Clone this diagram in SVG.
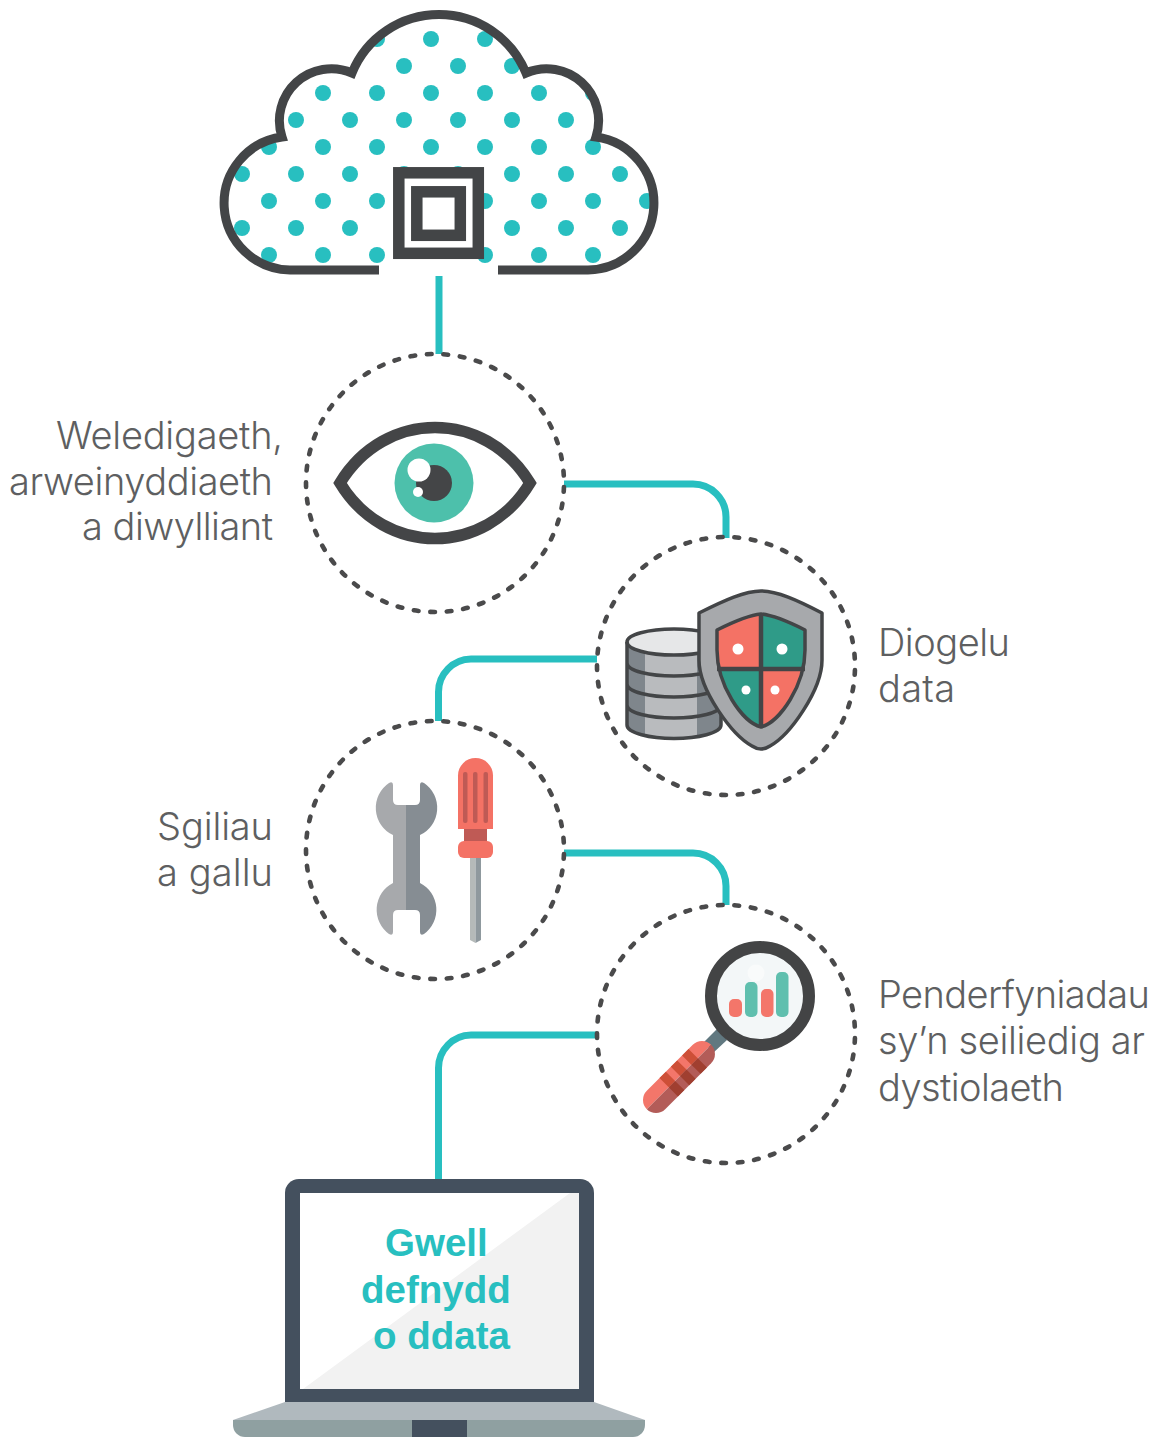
<svg xmlns="http://www.w3.org/2000/svg" width="1157" height="1437" viewBox="0 0 1157 1437">
<style>
.conn{fill:none;stroke:#28bfc0;stroke-width:7}
.ring{fill:none;stroke:#4a4a4b;stroke-width:4.600;stroke-linecap:round;stroke-dasharray:4.700 11.840;stroke-dashoffset:-4.100}
.lbl{font-family:Inter,Roboto,"Liberation Sans",sans-serif;font-weight:300;font-size:38px;fill:#5e5f61}
.big{font-family:"Liberation Sans",Arial,sans-serif;font-weight:700;font-size:38.500px;fill:#28bfc0}
.dots circle{fill:#28bfc0;r:8px}
</style>
<defs>
<clipPath id="cloudClip"><path d="M379,270L290,270A66.8,66.8 0 0 1 282,137A52,52 0 0 1 352,73A94,94 0 0 1 526,73A52,52 0 0 1 596,137A66.8,66.8 0 0 1 588,270L498,270Z"/></clipPath>
</defs>
<rect width="1157" height="1437" fill="#fff"/>
<g id="connectors" class="conn">
<path d="M439,276V354"/>
<path d="M564,484H693A33,33 0 0 1 726,517V538"/>
<path d="M597,659H471A33,33 0 0 0 438.500,692V721"/>
<path d="M564,853H693A33,33 0 0 1 726,886V905"/>
<path d="M597,1035H471A33,33 0 0 0 438.500,1068V1180"/>
</g>
<g id="cloud">
<g class="dots" clip-path="url(#cloudClip)">
<circle cx="377" cy="39"/><circle cx="431" cy="39"/><circle cx="485" cy="39"/>
<circle cx="404" cy="66"/><circle cx="458" cy="66"/><circle cx="512" cy="66"/>
<circle cx="323" cy="93"/><circle cx="377" cy="93"/><circle cx="431" cy="93"/><circle cx="485" cy="93"/><circle cx="539" cy="93"/><circle cx="593" cy="93"/>
<circle cx="296" cy="120"/><circle cx="350" cy="120"/><circle cx="404" cy="120"/><circle cx="458" cy="120"/><circle cx="512" cy="120"/><circle cx="566" cy="120"/>
<circle cx="269" cy="147"/><circle cx="323" cy="147"/><circle cx="377" cy="147"/><circle cx="431" cy="147"/><circle cx="485" cy="147"/><circle cx="539" cy="147"/><circle cx="593" cy="147"/>
<circle cx="242" cy="174"/><circle cx="296" cy="174"/><circle cx="350" cy="174"/><circle cx="404" cy="174"/><circle cx="458" cy="174"/><circle cx="512" cy="174"/><circle cx="566" cy="174"/><circle cx="620" cy="174"/>
<circle cx="269" cy="201"/><circle cx="323" cy="201"/><circle cx="377" cy="201"/><circle cx="485" cy="201"/><circle cx="539" cy="201"/><circle cx="593" cy="201"/><circle cx="647" cy="201"/>
<circle cx="242" cy="228"/><circle cx="296" cy="228"/><circle cx="350" cy="228"/><circle cx="512" cy="228"/><circle cx="566" cy="228"/><circle cx="620" cy="228"/>
<circle cx="269" cy="255"/><circle cx="323" cy="255"/><circle cx="377" cy="255"/><circle cx="485" cy="255"/><circle cx="539" cy="255"/><circle cx="593" cy="255"/>
</g>
<path d="M379,270L290,270A66.8,66.800 0 0 1 282,137A52,52 0 0 1 352,73A94,94 0 0 1 526,73A52,52 0 0 1 596,137A66.8,66.800 0 0 1 588,270L498,270" fill="none" stroke="#434547" stroke-width="9" stroke-miterlimit="6"/>
<rect x="398.800" y="172.800" width="79.500" height="80.500" fill="#fff" stroke="#434547" stroke-width="11.500"/>
<rect x="416.800" y="191.800" width="43.500" height="43.500" fill="#fff" stroke="#434547" stroke-width="11.500"/>
</g>
<g id="node-vision">
<circle class="ring" cx="435" cy="483" r="129"/>
<path d="M340,483C385,409 485,409 530,483C485,557 385,557 340,483Z" fill="#fff" stroke="#444547" stroke-width="11.500" stroke-linejoin="miter"/>
<circle cx="434" cy="483" r="39.500" fill="#4dc0ab"/>
<circle cx="434" cy="483" r="18" fill="#444547"/>
<circle cx="419" cy="470" r="11.500" fill="#fff"/>
<circle cx="418" cy="492" r="5" fill="#fff"/>
<g class="lbl"><text x="56" y="448.500" textLength="227">Weledigaeth,</text><text x="9" y="494.500" textLength="264">arweinyddiaeth</text><text x="82" y="539.500" textLength="191">a diwylliant</text></g>
</g>
<g id="node-data">
<circle class="ring" cx="726" cy="666" r="129"/>
<path d="M627,642V725C627,733 650,738.500 674,738.500C698,738.500 721,733 721,725V642Z" fill="#b9bbbe"/>
<path d="M627,642V725C627,730 635,734 645,736V642Z" fill="#7f868c"/>
<path d="M697,642V736C710,734 721,730 721,725V642Z" fill="#7f868c"/>
<ellipse cx="674" cy="642" rx="47" ry="13" fill="#e6e7e8" stroke="#434547" stroke-width="3.500"/>
<path d="M627,642V725C627,733 650,738.500 674,738.500C698,738.500 721,733 721,725V642M627,663C627,671 650,676 674,676C698,676 721,671 721,663M627,684C627,692 650,697 674,697C698,697 721,692 721,684M627,705C627,713 650,718 674,718C698,718 721,713 721,705" fill="none" stroke="#434547" stroke-width="3.500"/>
<path d="M699,613C725,600 745,591 761,591C777,591 797,600 822,613V660C822,690 790,735 770,746C764,750 758,750 752,746C732,735 699,690 699,660Z" fill="#a7a9ac" stroke="#434547" stroke-width="3.500" stroke-linejoin="round"/>
<path d="M717,630C735,621 750,615 761,614V669H719Z" fill="#f47265"/>
<path d="M805,630C787,621 772,615 761,614V669H803Z" fill="#2f9b88"/>
<path d="M719,669H761V727C745,722 725,695 719,669Z" fill="#2f9b88"/>
<path d="M803,669H761V727C777,722 797,695 803,669Z" fill="#f47265"/>
<path d="M717,630C735,621 750,615 761,614C772,615 787,621 805,630V650C805,685 780,722 761,727C742,722 717,685 717,650Z" fill="none" stroke="#434547" stroke-width="3.500" stroke-linejoin="round"/>
<path d="M717,669H805M761,614V727" fill="none" stroke="#434547" stroke-width="4.500"/>
<circle cx="738" cy="649" r="5.500" fill="#fff"/><circle cx="782" cy="649" r="5.500" fill="#fff"/>
<circle cx="746" cy="690" r="4.500" fill="#fff"/><circle cx="775" cy="690" r="4.500" fill="#fff"/>
<g class="lbl"><text x="878" y="655.500" textLength="132">Diogelu</text><text x="878" y="701.500" textLength="77">data</text></g>
</g>
<g id="node-skills">
<circle class="ring" cx="435" cy="850" r="129"/>
<path d="M406.500,805H398Q393,805 393,800V785Q393,781 389,783A30,30 0 0 0 393,835V883A30,30 0 0 0 389,934Q393,936 393,932V915Q393,910 398,910H406.500Z" fill="#a7a9ac"/>
<path d="M406,805H415Q420,805 420,800V785Q420,781 424,783A30,30 0 0 1 420,835V883A30,30 0 0 1 424,934Q420,936 420,932V915Q420,910 415,910H406Z" fill="#868d93"/>
<path d="M458,829V775.500A17.500,17.500 0 0 1 493,775.500V829Z" fill="#f47265"/>
<rect x="463" y="772" width="4.500" height="51" rx="2" fill="#bf5a55"/><rect x="473" y="772" width="4.500" height="51" rx="2" fill="#bf5a55"/><rect x="483.500" y="772" width="4.500" height="51" rx="2" fill="#bf5a55"/>
<rect x="464" y="829" width="23" height="13" fill="#bf5a55"/>
<rect x="458" y="841" width="35" height="17" rx="6" fill="#f47265"/>
<path d="M470,858H475.500V943L470,940Z" fill="#b5bab9"/>
<path d="M475.500,858H481V940L475.500,943Z" fill="#8f999e"/>
<g class="lbl"><text x="157" y="839.500" textLength="116">Sgiliau</text><text x="157" y="885.500" textLength="116">a gallu</text></g>
</g>
<g id="node-evidence">
<circle class="ring" cx="726" cy="1034" r="129"/>
<path d="M704,1042L717,1029L727,1040L713,1053Z" fill="#617880"/>
<g transform="translate(656,1100) rotate(-45)">
<path d="M-13,0A13,13 0 0 1 0,-13H65A13,13 0 0 1 78,0Z" fill="#f3766a"/>
<path d="M-13,0A13,13 0 0 0 0,13H65A13,13 0 0 0 78,0Z" fill="#b35c58"/>
<path d="M18,-13h9V0h-9ZM34,-13h9V0h-9ZM50,-13h9V0h-9Z" fill="#cd4f37"/>
<path d="M18,0h9V13h-9ZM34,0h9V13h-9ZM50,0h9V13h-9Z" fill="#a03f30"/>
</g>
<circle cx="760" cy="996" r="49" fill="#f3f7f8" stroke="#434445" stroke-width="12"/>
<circle cx="756" cy="973" r="8.500" fill="#f9fbfb"/>
<rect x="729" y="999" width="13" height="18" rx="5" fill="#f3766a"/>
<rect x="745" y="982" width="12.500" height="35" rx="5" fill="#5fbfae"/>
<rect x="761" y="989" width="12.500" height="28" rx="5" fill="#f3766a"/>
<rect x="776" y="972" width="12.500" height="45" rx="5" fill="#5fbfae"/>
<g class="lbl"><text x="878" y="1007.500" textLength="272">Penderfyniadau</text><text x="878" y="1053.500" textLength="267">sy’n seiliedig ar</text><text x="878" y="1100.500" textLength="186">dystiolaeth</text></g>
</g>
<g id="node-laptop">
<path d="M233,1420L285,1402H594L645,1420Z" fill="#b0b9be"/>
<path d="M233,1420H645V1425A12,12 0 0 1 633,1437H245A12,12 0 0 1 233,1425Z" fill="#8fa0a1"/>
<rect x="412" y="1420" width="55" height="17" fill="#44505e"/>
<path d="M285,1402V1193A14,14 0 0 1 299,1179H580A14,14 0 0 1 594,1193V1402Z" fill="#44505e"/>
<rect x="300" y="1193" width="279" height="196" fill="#fff"/>
<path d="M570,1193H579V1389H303Z" fill="#f2f2f2"/>
<text class="big" x="385" y="1256">Gwell</text>
<text class="big" x="361" y="1303">defnydd</text>
<text class="big" x="373" y="1349">o ddata</text>
</g>
</svg>
